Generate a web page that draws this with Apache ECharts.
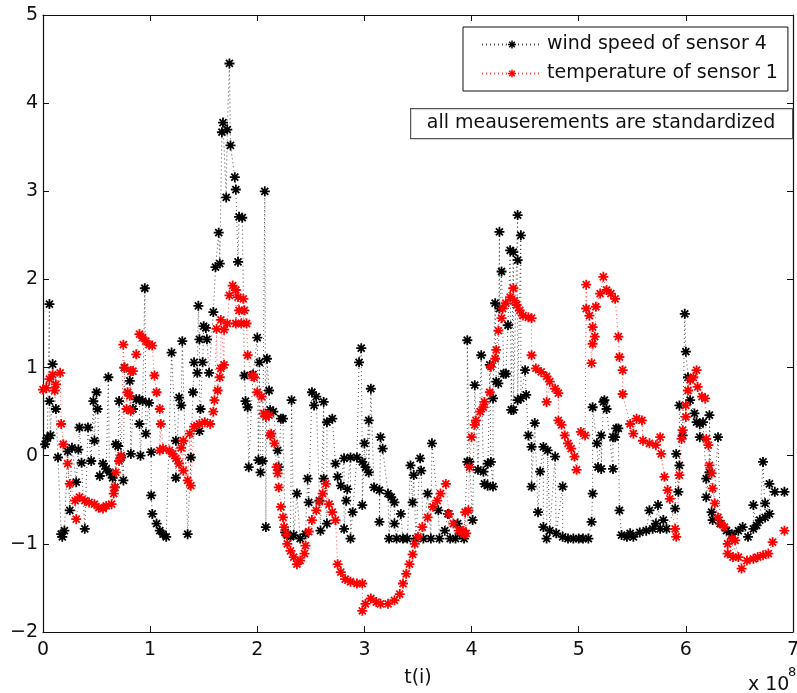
<!DOCTYPE html>
<html>
<head>
<meta charset="utf-8">
<script src="https://cdn.jsdelivr.net/npm/echarts@6/dist/echarts.min.js"></script>
<style>
html,body{margin:0;padding:0;background:#fff;}
#chart{width:797px;height:693px;}
</style>
</head>
<body>
<div id="chart"></div>
<script>
// x in units of 10^8 (t(i)), y standardized values
const seriesNames = ['wind speed of sensor 4', 'temperature of sensor 1'];
const xTicks = [0, 1, 2, 3, 4, 5, 6, 7];
const yTicks = [-2, -1, 0, 1, 2, 3, 4, 5];

const windSpeed4 = [
[0.02,0.13],[0.04,0.20],[0.06,1.72],[0.06,0.62],[0.07,0.23],[0.09,1.04],[0.12,0.53],[0.14,-0.02],[0.17,-0.89],[0.18,-0.92],
[0.20,-0.85],[0.23,0.05],[0.25,-0.62],[0.27,0.09],[0.31,-0.30],[0.33,0.07],[0.34,0.32],[0.36,-0.08],[0.39,-0.83],[0.42,0.32],
[0.45,-0.06],[0.47,0.62],[0.48,0.17],[0.50,0.72],[0.51,0.53],[0.53,-0.23],[0.56,-0.09],[0.59,-0.15],[0.61,0.89],[0.62,-0.19],
[0.65,-0.25],[0.67,-0.36],[0.68,0.13],[0.70,0.11],[0.71,0.62],[0.73,-0.02],[0.75,-0.28],[0.76,1.00],[0.81,0.85],[0.82,0.02],
[0.84,0.53],[0.87,0.64],[0.90,0.64],[0.90,0.36],[0.91,0.00],[0.93,0.62],[0.95,1.90],[0.96,0.25],[0.99,0.60],[1.01,0.04],
[1.01,-0.45],[1.02,-0.66],[1.06,-0.77],[1.09,-0.85],[1.12,-0.89],[1.15,-0.92],[1.20,1.17],[1.24,0.17],[1.24,-0.25],[1.27,0.66],
[1.29,0.57],[1.30,1.30],[1.35,-0.89],[1.38,-0.02],[1.40,0.72],[1.41,1.06],[1.44,0.94],[1.45,1.70],[1.46,1.32],[1.46,0.28],
[1.47,0.53],[1.49,1.06],[1.50,1.47],[1.52,1.45],[1.53,1.32],[1.55,0.94],[1.59,1.63],[1.61,2.14],[1.64,2.53],[1.65,2.18],
[1.67,3.67],[1.68,3.78],[1.71,2.93],[1.72,3.70],[1.74,4.45],[1.75,3.52],[1.79,3.16],[1.80,3.02],[1.82,2.20],[1.83,2.71],
[1.86,2.70],[1.88,0.91],[1.89,0.62],[1.91,0.55],[1.92,-0.13],[1.96,0.92],[2.00,1.34],[2.01,-0.05],[2.02,1.06],[2.03,-0.19],
[2.05,-0.06],[2.07,3.00],[2.08,-0.81],[2.09,1.10],[2.11,0.74],[2.12,0.52],[2.15,0.50],[2.19,0.06],[2.20,-0.13],[2.22,0.42],
[2.24,0.42],[2.26,-0.87],[2.28,-0.90],[2.31,-0.92],[2.32,0.63],[2.34,-0.90],[2.37,-0.43],[2.40,-0.94],[2.45,-0.89],[2.47,-0.26],
[2.48,-0.53],[2.51,0.72],[2.53,0.57],[2.55,0.67],[2.58,-0.51],[2.59,-0.85],[2.62,0.61],[2.62,-0.26],[2.65,-0.77],[2.65,0.38],
[2.70,0.42],[2.73,-0.09],[2.75,-0.24],[2.78,-0.34],[2.81,-0.03],[2.81,-0.83],[2.83,-0.51],[2.84,-0.38],[2.87,-0.02],[2.87,-0.94],
[2.89,-0.64],[2.93,-0.02],[2.95,1.06],[2.97,1.22],[2.98,-0.07],[2.98,-0.56],[3.00,0.14],[3.01,-0.13],[3.04,0.40],[3.04,-0.19],
[3.06,0.76],[3.09,-0.36],[3.14,-0.39],[3.14,-0.75],[3.15,0.21],[3.17,0.08],[3.22,-0.43],[3.23,-0.94],[3.25,-0.47],[3.28,-0.53],
[3.28,-0.77],[3.30,-0.94],[3.34,-0.66],[3.36,-0.94],[3.40,-0.94],[3.43,-0.11],[3.45,-0.53],[3.46,-0.22],[3.48,-0.94],[3.52,-0.03],
[3.53,-0.17],[3.55,-0.94],[3.59,-0.43],[3.62,-0.94],[3.63,0.14],[3.69,-0.62],[3.70,-0.94],[3.75,-0.85],[3.78,-0.66],[3.80,-0.94],
[3.85,-0.94],[3.87,-0.77],[3.89,-0.88],[3.93,-0.94],[3.96,-0.07],[3.96,1.31],[3.98,-0.07],[4.01,-0.73],[4.03,0.80],[4.06,-0.16],
[4.09,1.14],[4.11,-0.18],[4.12,-0.32],[4.15,-0.09],[4.15,-0.34],[4.17,1.03],[4.18,-0.07],[4.20,-0.35],[4.20,0.65],[4.22,1.73],
[4.23,0.84],[4.25,0.82],[4.26,2.54],[4.26,1.67],[4.28,2.09],[4.30,0.93],[4.32,0.93],[4.34,1.48],[4.36,2.33],[4.37,0.52],
[4.39,2.31],[4.39,0.52],[4.43,2.73],[4.43,2.22],[4.43,0.63],[4.46,2.50],[4.46,0.65],[4.50,0.97],[4.51,0.69],[4.53,0.23],
[4.56,0.10],[4.56,-0.35],[4.59,0.37],[4.62,-0.64],[4.64,-0.18],[4.67,0.10],[4.67,-0.81],[4.70,-0.94],[4.71,0.06],[4.73,-0.85],
[4.78,-0.01],[4.79,-0.88],[4.85,-0.35],[4.85,-0.92],[4.90,-0.94],[4.95,-0.94],[5.00,-0.94],[5.04,-0.94],[5.09,-0.94],[5.12,-0.75],
[5.13,-0.43],[5.13,0.55],[5.17,0.14],[5.18,-0.13],[5.21,0.23],[5.21,-0.15],[5.23,0.61],[5.24,0.63],[5.26,0.53],[5.32,-0.15],
[5.32,0.21],[5.34,0.21],[5.35,0.31],[5.37,0.31],[5.38,-0.62],[5.40,-0.90],[5.45,-0.92],[5.48,-0.88],[5.51,-0.92],[5.57,-0.87],
[5.63,-0.85],[5.66,-0.62],[5.69,-0.83],[5.72,-0.77],[5.74,-0.56],[5.76,-0.83],[5.79,-0.73],[5.82,-0.83],[5.90,-0.60],[5.91,0.02],
[5.93,-0.41],[5.94,-0.11],[5.94,0.57],[5.97,0.23],[5.99,1.61],[6.00,1.18],[6.02,0.89],[6.04,0.63],[6.08,0.48],[6.10,0.38],
[6.13,0.36],[6.13,0.21],[6.16,0.38],[6.19,-0.26],[6.19,-0.47],[6.22,-0.19],[6.22,0.46],[6.24,-0.64],[6.25,-0.73],[6.30,0.21],
[6.32,-0.77],[6.38,-0.85],[6.43,-0.89],[6.49,-0.85],[6.53,-0.81],[6.58,-0.92],[6.63,-0.83],[6.63,-0.56],[6.66,-0.79],[6.69,-0.73],
[6.72,-0.07],[6.74,-0.70],[6.74,-0.54],[6.78,-0.66],[6.78,-0.32],[6.83,-0.41],[6.92,-0.41]
];

const temperature1 = [
[0.00,0.75],[0.03,0.77],[0.06,0.87],[0.09,0.92],[0.11,0.74],[0.12,0.81],[0.16,0.94],[0.17,0.36],[0.19,0.13],[0.23,-0.09],
[0.25,-0.32],[0.30,-0.51],[0.31,-0.72],[0.34,-0.47],[0.39,-0.51],[0.43,-0.53],[0.48,-0.55],[0.52,-0.59],[0.56,-0.60],[0.59,-0.57],
[0.64,-0.55],[0.66,-0.43],[0.67,-0.36],[0.68,-0.19],[0.71,-0.06],[0.73,0.00],[0.75,1.26],[0.76,1.00],[0.78,0.53],[0.79,0.72],
[0.81,0.68],[0.82,0.51],[0.82,0.96],[0.84,0.96],[0.87,1.15],[0.90,1.38],[0.93,1.34],[0.96,1.30],[0.99,1.26],[1.02,1.25],
[1.04,0.91],[1.06,0.72],[1.09,0.53],[1.10,0.36],[1.09,0.06],[1.12,0.08],[1.18,0.06],[1.21,0.02],[1.24,-0.03],[1.27,-0.09],
[1.29,0.09],[1.31,-0.17],[1.31,0.17],[1.35,-0.28],[1.37,0.25],[1.38,-0.34],[1.41,0.33],[1.46,0.36],[1.51,0.38],[1.56,0.36],
[1.59,0.50],[1.60,0.63],[1.62,1.44],[1.63,0.74],[1.65,0.89],[1.66,0.99],[1.66,1.54],[1.69,1.03],[1.69,1.43],[1.72,1.50],
[1.74,1.82],[1.77,1.93],[1.80,1.88],[1.80,1.50],[1.82,1.80],[1.83,1.65],[1.85,1.50],[1.87,1.78],[1.88,1.65],[1.90,1.50],
[1.91,1.14],[1.95,0.91],[1.97,0.89],[2.00,0.72],[2.04,0.67],[2.06,0.48],[2.08,0.44],[2.11,0.46],[2.12,0.23],[2.13,0.25],
[2.16,0.14],[2.18,-0.13],[2.19,-0.20],[2.20,-0.36],[2.22,-0.58],[2.24,-0.70],[2.25,-0.81],[2.27,-0.89],[2.28,-1.00],[2.31,-1.08],
[2.34,-1.15],[2.37,-1.23],[2.40,-1.19],[2.44,-1.11],[2.45,-1.02],[2.48,-0.86],[2.51,-0.73],[2.55,-0.62],[2.58,-0.52],[2.61,-0.43],
[2.64,-0.32],[2.67,-0.55],[2.70,-0.64],[2.73,-0.73],[2.75,-1.23],[2.78,-1.32],[2.82,-1.40],[2.87,-1.43],[2.93,-1.45],[2.98,-1.45],
[2.98,-1.76],[3.01,-1.68],[3.06,-1.62],[3.11,-1.66],[3.15,-1.68],[3.22,-1.68],[3.28,-1.64],[3.33,-1.57],[3.36,-1.45],[3.39,-1.34],
[3.42,-1.23],[3.45,-1.12],[3.47,-1.00],[3.50,-0.92],[3.54,-0.81],[3.59,-0.70],[3.64,-0.58],[3.68,-0.51],[3.71,-0.43],[3.76,-0.32],
[3.79,-0.66],[3.83,-0.77],[3.88,-0.85],[3.92,-0.85],[3.93,-0.89],[3.94,-0.64],[3.95,-0.88],[3.97,-0.62],[3.98,-0.13],[4.00,0.21],
[4.03,0.35],[4.04,0.40],[4.08,0.50],[4.11,0.55],[4.12,0.61],[4.17,0.72],[4.18,1.01],[4.22,1.10],[4.23,1.20],[4.25,1.42],
[4.28,1.56],[4.29,1.67],[4.32,1.73],[4.36,1.80],[4.39,1.90],[4.40,1.76],[4.42,1.71],[4.45,1.65],[4.48,1.59],[4.53,1.57],
[4.56,1.56],[4.56,1.14],[4.60,0.99],[4.65,0.95],[4.70,0.90],[4.70,0.61],[4.73,0.84],[4.78,0.76],[4.81,0.71],[4.81,0.40],
[4.84,0.35],[4.87,0.23],[4.90,0.14],[4.93,0.08],[4.96,-0.01],[4.98,-0.16],[5.02,0.27],[5.06,0.23],[5.07,1.94],[5.07,1.67],
[5.10,1.59],[5.12,1.05],[5.13,1.27],[5.13,1.46],[5.15,1.35],[5.16,1.69],[5.20,1.84],[5.23,2.03],[5.26,1.88],[5.30,1.84],
[5.34,1.78],[5.37,1.35],[5.38,1.12],[5.41,0.97],[5.41,0.70],[5.48,0.36],[5.51,0.25],[5.54,0.42],[5.59,0.40],[5.60,0.17],
[5.66,0.14],[5.72,0.12],[5.76,0.21],[5.77,0.02],[5.80,-0.24],[5.83,-0.39],[5.85,-0.49],[5.90,-0.83],[5.91,-0.92],[5.94,-0.22],
[5.96,0.19],[5.97,0.29],[6.00,0.44],[6.00,0.57],[6.02,0.74],[6.04,0.86],[6.07,0.89],[6.10,0.97],[6.11,0.78],[6.15,0.67],
[6.18,0.65],[6.19,0.19],[6.21,0.12],[6.22,-0.11],[6.24,-0.20],[6.25,-0.37],[6.27,-0.54],[6.30,-0.70],[6.33,-0.77],[6.36,-0.81],
[6.39,-1.00],[6.39,-1.11],[6.43,-0.94],[6.44,-1.15],[6.46,-0.96],[6.49,-1.15],[6.52,-1.28],[6.57,-1.19],[6.63,-1.17],[6.67,-1.15],
[6.72,-1.13],[6.77,-1.11],[6.81,-0.98],[6.92,-0.85]
];

const FONT = 'DejaVu Sans';
const STAR = 'path://M0,4.1L10,4.1L10,5.9L0,5.9Z M4.1,0L5.9,0L5.9,10L4.1,10Z M0.86,2.14L2.14,0.86L9.14,7.86L7.86,9.14Z M7.86,0.86L9.14,2.14L2.14,9.14L0.86,7.86Z';
const byX = (a, b) => a[0] - b[0];
const minusFmt = v => (v < 0 ? '\u2212' + Math.abs(v) : String(v));

const chart = echarts.init(document.getElementById('chart'), null, {renderer: 'canvas'});

const axisLine = {show: true, onZero: false, lineStyle: {color: '#111', width: 1.2}};
const tick = {show: true, inside: true, length: 6, lineStyle: {color: '#111', width: 1}};

function mkSeries(name, data, color) {
  return {
    name: name,
    type: 'line',
    data: data.slice().sort(byX),
    xAxisIndex: 0, yAxisIndex: 0,
    symbol: STAR,
    symbolSize: 10,
    showSymbol: true,
    showAllSymbol: true,
    itemStyle: {color: color},
    lineStyle: {color: color, width: 1, type: [1, 3], opacity: 0.7},
    emphasis: {disabled: true},
    animation: false
  };
}

chart.setOption({
  animation: false,
  backgroundColor: '#fff',
  grid: {left: 43, right: 4, top: 15, bottom: 61, containLabel: false, outerBoundsMode: 'none'},
  xAxis: [
    {type: 'value', position: 'bottom', min: xTicks[0], max: xTicks[xTicks.length - 1], interval: 1,
     axisLine: axisLine, axisTick: tick, splitLine: {show: false},
     axisLabel: {fontSize: 19, fontFamily: FONT, color: '#111', margin: 9},
     name: 't(i)', nameLocation: 'middle', nameGap: 37,
     nameTextStyle: {fontSize: 19, fontFamily: FONT, color: '#111'}},
    {type: 'value', position: 'top', min: xTicks[0], max: xTicks[xTicks.length - 1], interval: 1,
     axisLine: axisLine, axisTick: tick, splitLine: {show: false}, axisLabel: {show: false}}
  ],
  yAxis: [
    {type: 'value', position: 'left', min: yTicks[0], max: yTicks[yTicks.length - 1], interval: 1,
     axisLine: axisLine, axisTick: tick, splitLine: {show: false},
     axisLabel: {fontSize: 19, fontFamily: FONT, color: '#111', margin: 5, formatter: minusFmt}},
    {type: 'value', position: 'right', min: yTicks[0], max: yTicks[yTicks.length - 1], interval: 1,
     axisLine: axisLine, axisTick: tick, splitLine: {show: false}, axisLabel: {show: false}}
  ],
  legend: {
    orient: 'vertical', left: 463, top: 27,
    data: seriesNames,
    backgroundColor: '#fff',
    borderColor: '#111', borderWidth: 1,
    padding: [8, 10, 8, 18],
    itemGap: 10, itemWidth: 60, itemHeight: 10,
    textStyle: {fontSize: 19, fontFamily: FONT, color: '#111'},
    selectedMode: false
  },
  graphic: [
    {type: 'rect', left: 410, top: 108, z: 100,
     shape: {width: 382, height: 30},
     style: {fill: '#fff', stroke: '#555', lineWidth: 1.2}},
    {type: 'text', x: 601, y: 123, z: 101,
     style: {text: 'all meauserements are standardized', fontSize: 19, fontFamily: FONT, fill: '#111',
             textAlign: 'center', textVerticalAlign: 'middle'}},
    {type: 'text', x: 748, y: 685, z: 101,
     style: {text: 'x 10', fontSize: 19, fontFamily: FONT, fill: '#111', textAlign: 'left', textVerticalAlign: 'middle'}},
    {type: 'text', x: 788, y: 673, z: 101,
     style: {text: '8', fontSize: 13, fontFamily: FONT, fill: '#111', textAlign: 'left', textVerticalAlign: 'middle'}}
  ],
  series: [
    mkSeries(seriesNames[0], windSpeed4, '#000000'),
    mkSeries(seriesNames[1], temperature1, '#ff0000')
  ]
});
</script>
</body>
</html>
